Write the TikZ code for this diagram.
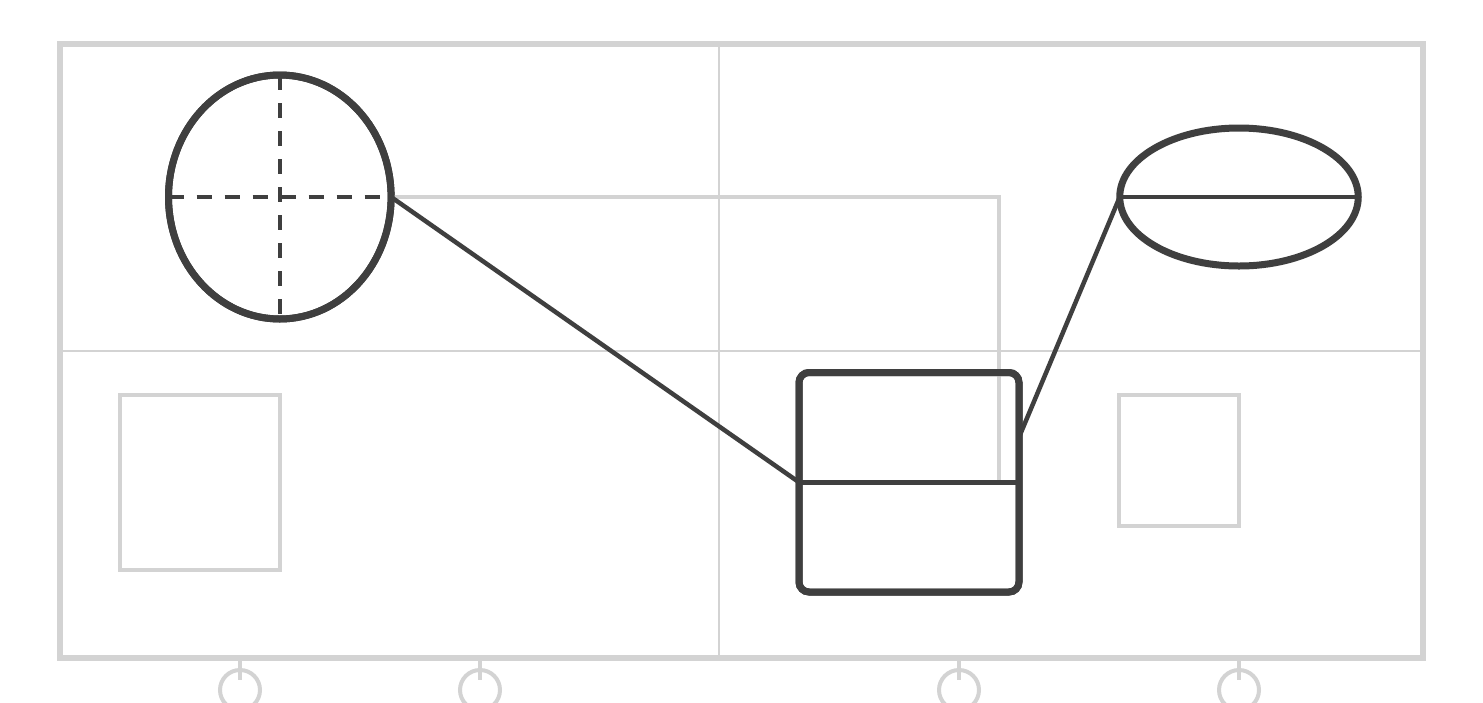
\documentclass[tikz,border=0pt]{standalone}
\usetikzlibrary{shapes.geometric}
\definecolor{ink}{HTML}{3F3F3F}
\definecolor{pale}{HTML}{D3D3D3}
\tikzset{
  frameline/.style={draw=pale,line width=6pt},
  divline/.style={draw=pale,line width=2.5pt},
  palebox/.style={draw=pale,line width=4.5pt},
  paleconn/.style={draw=pale,line width=3.5pt},
  bigoval/.style={ellipse,draw=ink,line width=7pt,inner sep=0pt,outer sep=0pt},
  roundbox/.style={rectangle,draw=ink,line width=7pt,rounded corners=10pt,inner sep=0pt,outer sep=0pt,minimum width=220pt,minimum height=219.5pt},
  darkconn/.style={draw=ink,line width=4.5pt},
  dashaxis/.style={draw=ink,line width=4pt,dash pattern=on 15pt off 13pt},
  midline/.style={draw=ink,line width=4.5pt},
  port/.style={circle,draw=pale,line width=4pt,minimum size=40pt,inner sep=0pt,outer sep=0pt},
  stem/.style={draw=pale,line width=4pt}
}
\begin{document}
\begin{tikzpicture}[x=1pt,y=-1pt]
\useasboundingbox (0,0) rectangle (1483,702);
\clip (0,0) rectangle (1483,702);
\fill[white] (0,0) rectangle (1483,702);
% frame and dividers
\draw[frameline] (60,44) rectangle (1423,658);
\draw[divline] (719,44) -- (719,658);
\draw[divline] (60,351) -- (1423,351);
% pale boxes
\draw[palebox] (120,395) rectangle (280,570);
\draw[palebox] (1119,395) rectangle (1239,526);
% nodes
\node[bigoval,minimum width=222.6pt,minimum height=244pt] (circ) at (279.8,197) {};
\node[bigoval,minimum width=238.5pt,minimum height=138pt] (ell) at (1239,197) {};
\node[roundbox] (box) at (909,482.25) {};
% pale connector
\coordinate (gend) at (999,481);
\draw[paleconn] (circ.east) -| (gend);
% bottom ports
\foreach \i/\x in {1/240,2/480,3/959,4/1239}{
  \node[port] (p\i) at (\x,690) {};
  \coordinate (s\i) at (\x,658);
  \draw[stem] (s\i) -- ([yshift=-10pt]p\i.north);
}
% redraw nodes on top
\node[bigoval,minimum width=222.6pt,minimum height=244pt] at (circ) {};
\node[roundbox] at (box) {};
% inner lines
\draw[dashaxis] (circ.west) -- (circ.east);
\draw[dashaxis] (circ.north) -- (circ.south);
\draw[midline] (ell.west) -- (ell.east);
\draw[midline] (box.west) -- (box.east);
% dark connectors
\draw[darkconn] (circ.east) -- (box.west);
\draw[darkconn] (ell.west) -- ([yshift=45pt]box.east);
\end{tikzpicture}
\end{document}
